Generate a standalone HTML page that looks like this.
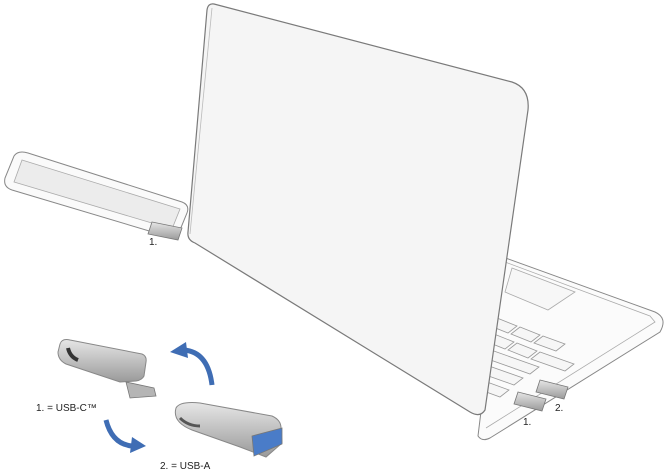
<!DOCTYPE html>
<html><head><style>
html,body{margin:0;padding:0;background:#fff;}
svg{display:block;}
text{font-family:"Liberation Sans",sans-serif;fill:#222;}
</style></head><body>
<svg width="665" height="473" viewBox="0 0 665 473" xmlns="http://www.w3.org/2000/svg">
<defs>
<linearGradient id="m" x1="0" y1="0" x2="0" y2="1"><stop offset="0" stop-color="#e6e6e6"/><stop offset="1" stop-color="#9a9a9a"/></linearGradient>
</defs>
<!-- laptop base -->
<path d="M500,256 L655,312 Q668,318 660,332 L490,438 Q482,442 478,436 Z" fill="#fbfbfb" stroke="#888" stroke-width="1"/>
<path d="M505,262 L650,316 L655,322 L486,428" fill="none" stroke="#aaa" stroke-width="0.8"/>
<path d="M512,268 L575,292 L548,310 L505,292 Z" fill="#f7f7f7" stroke="#aaa" stroke-width="0.8"/>
<g fill="#f6f6f6" stroke="#999" stroke-width="0.8">
<path d="M497,318 l20,8 l-9,7 l-20,-8 z"/><path d="M520,327 l20,8 l-9,7 l-20,-8 z"/><path d="M543,336 l22,8 l-9,7 l-22,-8 z"/>
<path d="M494,334 l20,8 l-9,7 l-20,-8 z"/><path d="M517,343 l20,8 l-9,7 l-20,-8 z"/><path d="M540,352 l34,12 l-9,7 l-34,-12 z"/>
<path d="M491,350 l48,17 l-9,7 l-48,-17 z"/><path d="M489,366 l34,12 l-9,7 l-34,-12 z"/><path d="M487,382 l22,8 l-9,7 l-22,-8 z"/>
</g>
<!-- lid -->
<path d="M214,4 Q208,3 207,10 L188,232 Q187,240 195,243 L470,412 Q480,418 485,410 L528,110 Q530,88 512,82 Z" fill="#f5f5f5" stroke="#7a7a7a" stroke-width="1.2"/>
<path d="M212,8 L190,234" stroke="#bbb" stroke-width="0.8"/>
<!-- phone -->
<path d="M14,156 Q18,150 28,153 L182,202 Q190,205 187,213 L180,230 Q176,238 166,236 L12,190 Q3,187 5,178 Z" fill="#fafafa" stroke="#888" stroke-width="1"/>
<path d="M22,160 L180,209 L172,229 L14,182 Z" fill="#ececec" stroke="#aaa" stroke-width="0.8"/>
<!-- small drive at phone -->
<path d="M152,222 l30,6 l-4,12 l-30,-6 z" fill="url(#m)" stroke="#777" stroke-width="0.8"/>
<text x="149" y="245" font-size="10">1.</text>
<!-- drives at laptop -->
<path d="M518,392 l28,7 l-4,12 l-28,-7 z" fill="url(#m)" stroke="#777" stroke-width="0.8"/>
<path d="M540,380 l28,7 l-4,12 l-28,-7 z" fill="url(#m)" stroke="#777" stroke-width="0.8"/>
<text x="523" y="425" font-size="10">1.</text>
<text x="555" y="411" font-size="10">2.</text>
<!-- USB-C drive -->
<path d="M60,344 Q62,338 70,340 L142,354 Q147,356 146,362 L144,376 Q142,380 136,381 L120,382 L66,364 Q58,360 58,352 Z" fill="url(#m)" stroke="#888" stroke-width="1"/>
<path d="M126,382 L154,388 L156,396 L130,398 Z" fill="#b5b5b5" stroke="#777" stroke-width="0.8"/>
<path d="M68,348 q2,9 10,12" fill="none" stroke="#333" stroke-width="4"/>
<text x="36" y="411" font-size="10">1. = USB-C™</text>
<!-- USB-A drive -->
<path d="M176,408 Q180,401 200,403 L272,416 Q281,420 281,428 L282,443 L266,457 L240,447 L192,430 Q172,422 176,408 Z" fill="url(#m)" stroke="#888" stroke-width="1"/>
<path d="M252,436 l30,-8 l0,16 l-28,12 z" fill="#4a7cc8" stroke="#777" stroke-width="0.8"/>
<path d="M180,418 q8,8 20,8" fill="none" stroke="#555" stroke-width="3"/>
<text x="160" y="469" font-size="10">2. = USB-A</text>
<!-- arrows -->
<path d="M212,385 Q208,352 184,350" fill="none" stroke="#3f6db4" stroke-width="5"/>
<path d="M170,352 l16,-10 l2,16 z" fill="#3f6db4"/>
<path d="M106,420 Q112,444 132,446" fill="none" stroke="#3f6db4" stroke-width="5"/>
<path d="M146,446 l-14,-9 l-2,16 z" fill="#3f6db4"/>
</svg>
</body></html>
